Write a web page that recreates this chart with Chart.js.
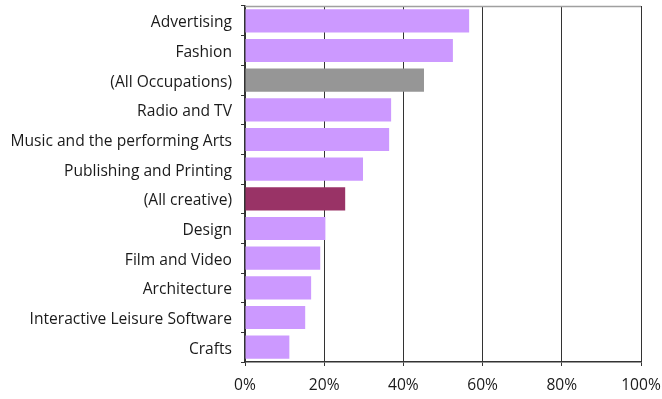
<!DOCTYPE html>
<html>
<head>
<meta charset="utf-8">
<script src="https://cdn.jsdelivr.net/npm/chart.js@4/dist/chart.umd.min.js"></script>
<style>
  html, body { margin: 0; padding: 0; background: #ffffff; }
  #wrap { width: 662px; height: 399px; }
</style>
</head>
<body>
<div id="wrap"><canvas id="c" width="662" height="399"></canvas></div>
<script>
// Share of workforce by sector, percent
const categories = [
  "Advertising",
  "Fashion",
  "(All Occupations)",
  "Radio and TV",
  "Music and the performing Arts",
  "Publishing and Printing",
  "(All creative)",
  "Design",
  "Film and Video",
  "Architecture",
  "Interactive Leisure Software",
  "Crafts"
];
const values = [56.6, 52.5, 45.2, 36.9, 36.4, 29.8, 25.3, 20.3, 19.0, 16.7, 15.2, 11.2];
const xTicks = [0, 20, 40, 60, 80, 100];

const sectorColor = "#CC99FF";
const allOccupationsColor = "#969696";
const allCreativeColor = "#993366";

const barColors = categories.map(c =>
  c === "(All Occupations)" ? allOccupationsColor :
  c === "(All creative)" ? allCreativeColor : sectorColor);

// Thin frame line along the top of the plot area
const topFrame = {
  id: "topFrame",
  afterDraw(chart) {
    const { ctx, chartArea } = chart;
    ctx.save();
    ctx.strokeStyle = "#a0a0a0";
    ctx.lineWidth = 1.5;
    ctx.beginPath();
    ctx.moveTo(chartArea.left, chartArea.top + 0.5);
    ctx.lineTo(chartArea.right, chartArea.top + 0.5);
    ctx.stroke();
    ctx.restore();
  }
};

Chart.defaults.font.family = "'Open Sans', 'DejaVu Sans', sans-serif";
Chart.defaults.font.size = 15.6;
Chart.defaults.color = "#1a1a1a";

new Chart(document.getElementById("c"), {
  type: "bar",
  data: {
    labels: categories,
    datasets: [{
      data: values,
      backgroundColor: barColors,
      borderWidth: 0,
      categoryPercentage: 1.0,
      barPercentage: 0.78
    }]
  },
  options: {
    indexAxis: "y",
    responsive: false,
    animation: false,
    layout: { padding: { top: 6, right: 0, left: 0, bottom: 0 } },
    plugins: {
      legend: { display: false },
      tooltip: { enabled: false }
    },
    scales: {
      x: {
        min: 0,
        max: 100,
        afterBuildTicks(axis) { axis.ticks = xTicks.map(v => ({ value: v })); },
        afterFit(axis) {
          axis.height = 37;
          axis.paddingLeft = 0;
          axis.paddingRight = 21;
        },
        ticks: {
          callback: v => v + "%",
          padding: 10,
          maxRotation: 0
        },
        grid: {
          color: "#333333",
          lineWidth: 1,
          drawTicks: true,
          tickLength: 4,
          tickColor: "#333333"
        },
        border: { display: true, color: "#333333", width: 1.5 }
      },
      y: {
        offset: true,
        afterFit(axis) {
          axis.width = 245;
          axis.paddingTop = 0;
          axis.paddingBottom = 0;
        },
        ticks: { padding: 9, autoSkip: false, labelOffset: 2 },
        grid: {
          offset: true,
          drawOnChartArea: false,
          drawTicks: true,
          tickLength: 4,
          tickColor: "#333333"
        },
        border: { display: true, color: "#333333", width: 1.5 }
      }
    }
  },
  plugins: [topFrame]
});
</script>
</body>
</html>
